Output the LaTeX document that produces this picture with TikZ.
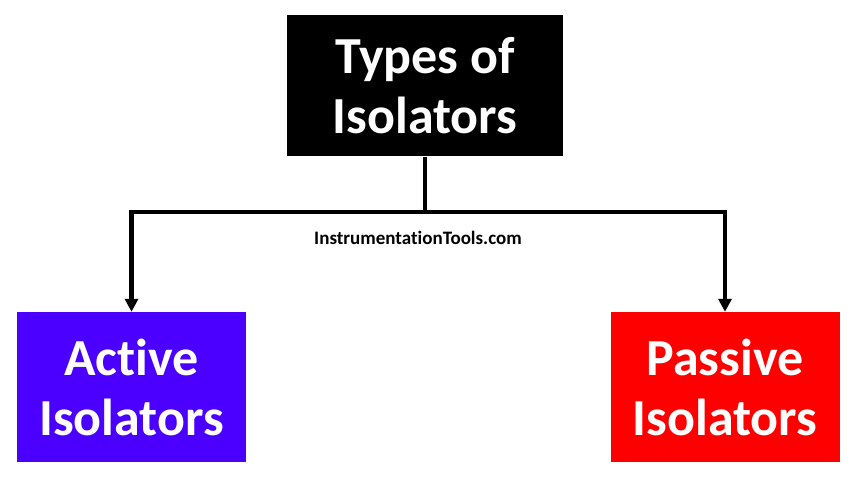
\documentclass[tikz,border=0pt]{standalone}
\usepackage{fontspec}
\setmainfont{Carlito}[Ligatures={NoCommon}]
\usetikzlibrary{arrows.meta}
\definecolor{activeblue}{RGB}{75,0,255}
\definecolor{passivered}{RGB}{255,0,0}

\begin{document}
\begin{tikzpicture}[x=1pt,y=-1pt,>={Triangle[length=13pt,width=13pt]},
	box/.style={minimum width=229pt,minimum height=150pt,inner sep=0pt,align=center,
		text=white,font=\fontsize{52}{60}\selectfont\bfseries}]
\useasboundingbox (0,0) rectangle (860,489);
\node (T) at (425,86) [box,fill=black,minimum width=276pt,minimum height=141pt] {Types of\\Isolators};
\node (A) at (131.5,387) [box,fill=activeblue] {Active\\Isolators};
\node (P) at (725,387) [box,fill=passivered] {Passive\\Isolators};
\node (W) at (418,238) [font=\fontsize{19}{21}\selectfont\bfseries] {InstrumentationTools.com};
\coordinate (S) at (425,212);
\draw [line width=4.2pt] (T) -- (S);
\draw [->,line width=4.2pt] (S) -| (A);
\draw [->,line width=4.2pt] (S) -| (P);
\end{tikzpicture}
\end{document}
